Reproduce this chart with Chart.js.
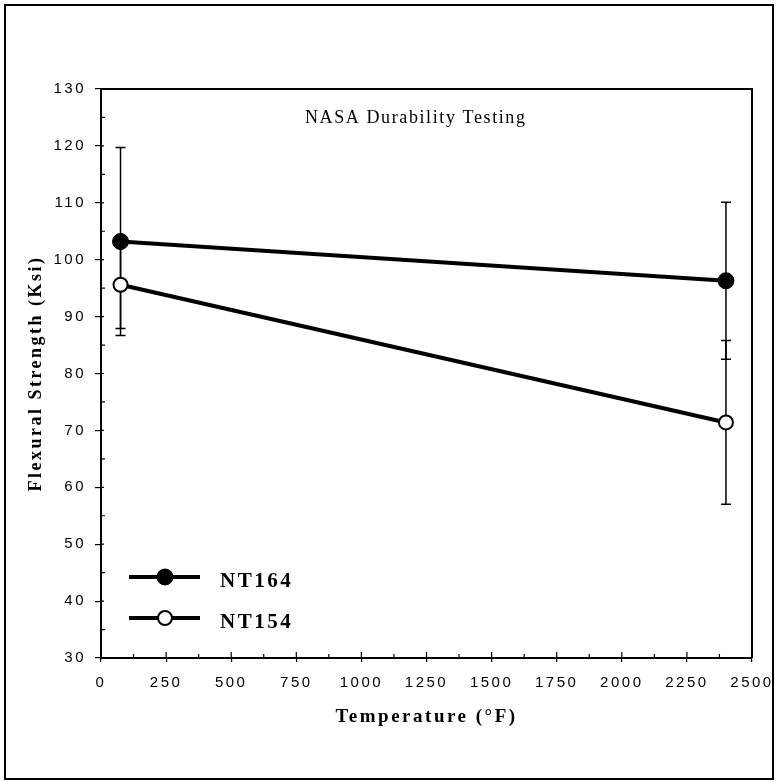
<!DOCTYPE html>
<html lang="en">
<head>
<meta charset="UTF-8">
<title>NASA Durability Testing</title>
<script src="https://cdn.jsdelivr.net/npm/chart.js@4.4.1/dist/chart.umd.min.js"></script>
<style>
    body { margin: 0; background: #fff; }
    canvas { display: block; }
</style>
</head>
<body>
<canvas id="chart" width="776" height="781"></canvas>
<script>
// data
const temperatures = [75, 2400];
const nt164Strength = [103.2, 96.3];
const nt164Error = [16.5, 13.8];
const nt154Strength = [95.6, 71.4];
const nt154Error = [7.7, 14.4];
const seriesNames = ['NT164', 'NT154'];
const xTickValues = [0, 250, 500, 750, 1000, 1250, 1500, 1750, 2000, 2250, 2500];
const yTickValues = [30, 40, 50, 60, 70, 80, 90, 100, 110, 120, 130];
const chartTitle = 'NASA Durability Testing';

const errorSets = [nt164Error, nt154Error];

// frame, minor ticks, error bars, legend and title
const extras = {
    id: 'extras',
    beforeDraw(chart) {
        const ctx = chart.ctx;
        ctx.save();
        ctx.fillStyle = '#fff';
        ctx.fillRect(0, 0, chart.width, chart.height);
        ctx.strokeStyle = '#000';
        ctx.lineWidth = 2;
        ctx.strokeRect(5, 5, 768, 774);
        ctx.restore();
        ctx.letterSpacing = '2.5px'; // the scan has wide tracking
    },
    beforeDatasetsDraw(chart) {
        const ctx = chart.ctx;
        ctx.letterSpacing = '0px';
        const { left, right, top, bottom } = chart.chartArea;
        const xs = chart.scales.x, ys = chart.scales.y;
        ctx.save();
        ctx.strokeStyle = '#000';
        ctx.lineWidth = 2;
        ctx.beginPath();
        ctx.moveTo(left, top);
        ctx.lineTo(right, top);
        ctx.lineTo(right, bottom);
        ctx.stroke();

        // inside ticks
        ctx.lineWidth = 1.2;
        ctx.beginPath();
        for (let i = 0; i < yTickValues.length; i++) {
            const py = ys.getPixelForValue(yTickValues[i]);
            ctx.moveTo(left, py); ctx.lineTo(left + 3, py);
            if (i < yTickValues.length - 1) {
                const pm = ys.getPixelForValue((yTickValues[i] + yTickValues[i + 1]) / 2);
                ctx.moveTo(left, pm); ctx.lineTo(left + 4, pm);
            }
        }
        for (let i = 0; i < xTickValues.length; i++) {
            const px = xs.getPixelForValue(xTickValues[i]);
            ctx.moveTo(px, bottom); ctx.lineTo(px, bottom - 6);
            if (i < xTickValues.length - 1) {
                const pm = xs.getPixelForValue((xTickValues[i] + xTickValues[i + 1]) / 2);
                ctx.moveTo(pm, bottom); ctx.lineTo(pm, bottom - 4);
            }
        }
        ctx.stroke();

        // error bars
        ctx.lineWidth = 1.5;
        chart.data.datasets.forEach((ds, d) => {
            ds.data.forEach((pt, i) => {
                const px = xs.getPixelForValue(pt.x);
                const hi = ys.getPixelForValue(pt.y + errorSets[d][i]);
                const lo = ys.getPixelForValue(pt.y - errorSets[d][i]);
                ctx.beginPath();
                ctx.moveTo(px, hi); ctx.lineTo(px, lo);
                ctx.moveTo(px - 5, hi); ctx.lineTo(px + 5, hi);
                ctx.moveTo(px - 5, lo); ctx.lineTo(px + 5, lo);
                ctx.stroke();
            });
        });
        ctx.restore();
    },
    afterDatasetsDraw(chart) {
        const ctx = chart.ctx;
        ctx.save();
        ctx.fillStyle = '#000';
        ctx.textBaseline = 'alphabetic';
        ctx.textAlign = 'left';
        ctx.font = '18px "Liberation Serif", "Times New Roman", serif';
        ctx.letterSpacing = '1.6px';
        ctx.fillText(chartTitle, 305, 123);

        // legend
        const rows = [577, 618];
        chart.data.datasets.forEach((ds, d) => {
            const y = rows[d];
            ctx.strokeStyle = '#000';
            ctx.lineWidth = 4;
            ctx.beginPath();
            ctx.moveTo(129, y); ctx.lineTo(200, y);
            ctx.stroke();
            ctx.beginPath();
            ctx.arc(165, y, ds.pointRadius, 0, Math.PI * 2);
            ctx.fillStyle = ds.pointBackgroundColor;
            ctx.fill();
            ctx.lineWidth = ds.pointBorderWidth;
            ctx.stroke();
            ctx.fillStyle = '#000';
            ctx.font = 'bold 21px "Liberation Serif", "Times New Roman", serif';
            ctx.letterSpacing = '2.5px';
            ctx.fillText(ds.label, 220, y + 10);
        });
        ctx.restore();
    }
};

const ctx = document.getElementById('chart').getContext('2d');
new Chart(ctx, {
    type: 'line',
    data: {
        datasets: [
            {
                label: seriesNames[0],
                data: temperatures.map((t, i) => ({ x: t, y: nt164Strength[i] })),
                borderColor: '#000',
                borderWidth: 4,
                pointRadius: 8,
                pointBackgroundColor: '#000',
                pointBorderColor: '#000',
                pointBorderWidth: 1,
                tension: 0
            },
            {
                label: seriesNames[1],
                data: temperatures.map((t, i) => ({ x: t, y: nt154Strength[i] })),
                borderColor: '#000',
                borderWidth: 4,
                pointRadius: 7,
                pointBackgroundColor: '#fff',
                pointBorderColor: '#000',
                pointBorderWidth: 2,
                tension: 0
            }
        ]
    },
    options: {
        responsive: false,
        animation: false,
        layout: { padding: { top: 89, right: 24, left: 0, bottom: 0 } },
        plugins: {
            legend: { display: false },
            tooltip: { enabled: false }
        },
        scales: {
            x: {
                type: 'linear',
                min: 0,
                max: 2500,
                afterBuildTicks: s => { s.ticks = xTickValues.map(v => ({ value: v })); },
                afterFit: s => { s.height = 123; s.paddingLeft = 0; s.paddingRight = 0; },
                grid: { drawOnChartArea: false, drawTicks: true, tickLength: 4, color: '#000', lineWidth: 1.2 },
                border: { display: true, color: '#000', width: 2 },
                ticks: {
                    color: '#000',
                    padding: 12,
                    maxRotation: 0,
                    autoSkip: false,
                    callback: v => String(v),
                    font: { family: '"Liberation Sans", Arial, sans-serif', size: 15 }
                },
                title: {
                    display: true,
                    text: 'Temperature (°F)',
                    color: '#000',
                    padding: { top: 0, bottom: 53 },
                    font: { family: '"Liberation Serif", "Times New Roman", serif', size: 19, weight: 'bold' }
                }
            },
            y: {
                min: 30,
                max: 130,
                afterBuildTicks: s => { s.ticks = yTickValues.map(v => ({ value: v })); },
                afterFit: s => { s.width = 101; s.paddingTop = 0; s.paddingBottom = 0; },
                grid: { drawOnChartArea: false, drawTicks: true, tickLength: 6, color: '#000', lineWidth: 1.2 },
                border: { display: true, color: '#000', width: 2 },
                ticks: {
                    color: '#000',
                    padding: 9,
                    callback: v => String(v),
                    font: { family: '"Liberation Sans", Arial, sans-serif', size: 15 }
                },
                title: {
                    display: true,
                    text: 'Flexural Strength (Ksi)',
                    color: '#000',
                    padding: { top: 26, bottom: 0 },
                    font: { family: '"Liberation Serif", "Times New Roman", serif', size: 18, weight: 'bold' }
                }
            }
        }
    },
    plugins: [extras]
});
</script>
</body>
</html>
